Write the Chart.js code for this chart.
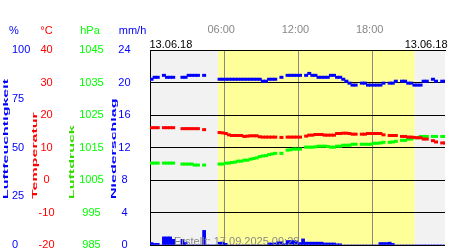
<!DOCTYPE html>
<html>
<head>
<meta charset="utf-8">
<script src="https://cdn.jsdelivr.net/npm/chart.js@4.4.1/dist/chart.umd.min.js"></script>
<style>
  body { margin: 0; background: #fff; }
  #wetter { display: block; }
</style>
</head>
<body>
<canvas id="wetter" width="450" height="250"></canvas>
<script>
/* Messwerte 13.06.18, alle 15 Minuten (null = kein Wert) */
const stepHours = 0.25;

const humidity = [
  85, 86, 86, null, 87, 86, 86, 86, null, null, 86, 86, 87, 87, 87, 87,
  null, 87, null, null, null, null, 85, 85, 85, 85, 85, 85, 85, 85, 85, 85,
  85, 85, 85, 85, 84, 84, 85, 85, 85, null, 86, null, 87, 87, 87, 87,
  87, null, 87, 88, 87, 87, 86, 86, 86, 86, 87, 87, 86, 86, 85, 84,
  83, 82, 82, null, 83, 83, 82, 82, 82, 82, 82, 83, null, 83, 83, 84,
  null, 84, 84, 83, 83, 82, 82, 82, 84, 84, null, 85, 84, null, 84, 84
];

const temperature = [
  16.1, 16.1, 16.1, null, 16.1, 16.1, 16.1, 16.1, null, null, 15.8, 15.8, 15.8, 15.8, 15.8, 15.8,
  null, 15.5, null, null, null, null, 14.6, 14.5, 14.3, 13.9, 13.7, 13.7, 13.7, 13.7, 13.4, 13.5,
  13.6, 13.6, 13.6, 13.3, 13.2, 13.2, 13.2, 13.2, 13.2, null, 13.1, null, 13.2, 13.2, 13.2, 13.2,
  13.2, null, 13.5, 13.8, 13.8, 14.0, 14.0, 14.0, 13.8, 13.8, 13.8, 13.8, 14.3, 14.3, 14.4, 14.4,
  14.3, 14.1, 14.1, null, 14.1, 14.1, 14.3, 14.3, 14.3, 14.3, 14.3, 13.9, null, 13.7, 13.7, 13.7,
  null, 13.4, 13.4, 13.2, 13.2, 13.1, 13.0, 13.0, 12.6, 12.6, null, 12.1, 11.7, null, 11.4, 11.4
];

const pressure = [
  1010.2, 1010.2, 1010.2, null, 1010.2, 1010.2, 1010.2, 1010.2, null, null, 1009.9, 1009.9, 1009.9, 1009.9, 1009.6, 1009.6,
  null, 1009.6, null, null, null, null, 1009.9, 1009.9, 1010.2, 1010.2, 1010.4, 1010.5, 1010.8, 1010.8, 1011.1, 1011.1,
  1011.4, 1011.6, 1011.8, 1012.2, 1012.4, 1012.5, 1012.8, 1013.0, 1013.2, null, 1013.2, null, 1014.2, 1014.3, 1014.5, 1014.5,
  1014.5, null, 1015.1, 1015.1, 1015.1, 1015.2, 1015.4, 1015.4, 1015.4, 1015.3, 1015.1, 1015.1, 1015.4, 1015.4, 1015.7, 1015.7,
  1015.7, 1016.0, 1016.0, null, 1016.0, 1016.0, 1016.0, 1016.0, 1016.3, 1016.3, 1016.4, 1016.6, null, 1016.6, 1016.7, 1016.9,
  null, 1017.2, 1017.2, 1017.6, 1017.6, 1018.0, 1018.0, 1018.4, 1018.4, 1018.4, null, 1018.4, 1018.4, null, 1018.4, 1018.4
];

const rain = [
  0.3, 0.2, 0.2, 0, 1.0, 1.0, 1.0, 0.7, 0, 0, 0.7, 0.3, 0, 0, 0, 0,
  0, 1.8, 0, 0, 0, 0, 0.35, 0.35, 0.2, 0, 0, 0, 0, 0, 0, 0,
  0, 0, 0, 0, 0, 0, 0.25, 0.25, 0.25, 0.4, 0.4, 0.15, 0.55, 0.55, 0.55, 0.5,
  0.3, 0.75, 0.35, 0.35, 0.35, 0.35, 0.35, 0.35, 0.25, 0.25, 0.25, 0.25, 0.15, 0.15, 0, 0,
  0, 0, 0, 0, 0, 0, 0, 0, 0, 0, 0.3, 0.3, 0.3, 0.35, 0.2, 0,
  0, 0, 0, 0, 0, 0, 0, 0, 0, 0, 0, 0, 0, 0, 0, 0
];

const hourTicks = [6, 12, 18];
const daylight = [5.5, 21.38];   // Sonnenaufgang / -untergang in Stunden
const dateLabel = "13.06.18";
const createdLabel = "Erstellt: 17.09.2025 09:29";

const BLUE = "#0000ff";
const RED = "#ff0000";
const GREEN = "#00ff00";
const FONT = '"Liberation Sans", Arial, sans-serif';

// Zeitachse: Mitte jedes 15-Minuten-Intervalls
const points = (values) => values.map((v, i) => ({ x: i * stepHours + stepHours / 2, y: v }));

// Hintergrund: Nacht grau, Tag gelb
const backdrop = {
  id: "backdrop",
  beforeDraw(chart) {
    const { ctx, chartArea, scales } = chart;
    const sunrise = scales.x.getPixelForValue(daylight[0]);
    const sunset = scales.x.getPixelForValue(daylight[1]);
    ctx.save();
    ctx.fillStyle = "#f2f2f2";
    ctx.fillRect(chartArea.left, chartArea.top, chartArea.width, chartArea.height);
    ctx.fillStyle = "#ffff99";
    ctx.fillRect(sunrise, chartArea.top, sunset - sunrise, chartArea.height);
    ctx.restore();
  },
};

function drawUpright(ctx, text, x, y, color) {
  ctx.save();
  ctx.translate(x, y);
  ctx.rotate(-Math.PI / 2);
  ctx.scale(2, 1);
  ctx.font = "bold 8px " + FONT;
  ctx.fillStyle = color;
  ctx.textAlign = "left";
  ctx.textBaseline = "alphabetic";
  ctx.fillText(text, 0, 0);
  ctx.restore();
}

// Einheiten, Achsentitel, Datum, Fusszeile
const captions = {
  id: "captions",
  afterDraw(chart) {
    const { ctx, chartArea } = chart;
    ctx.save();
    ctx.font = "11px " + FONT;
    ctx.textBaseline = "alphabetic";
    ctx.textAlign = "center";
    ctx.fillStyle = BLUE;
    ctx.fillText("%", 14, 34);
    ctx.fillStyle = RED;
    ctx.fillText("°C", 46.5, 34);
    ctx.fillStyle = GREEN;
    ctx.fillText("hPa", 90, 34);
    ctx.fillStyle = BLUE;
    ctx.fillText("mm/h", 132.5, 34);

    ctx.fillStyle = "#000";
    ctx.textAlign = "left";
    ctx.fillText(dateLabel, chartArea.left - 0.5, 47.5);
    ctx.textAlign = "right";
    ctx.fillText(dateLabel, 447.5, 47.5);

    ctx.fillStyle = "#888";
    ctx.textAlign = "left";
    ctx.fillText(createdLabel, 174, 245);
    ctx.restore();

    drawUpright(ctx, "Luftfeuchtigkeit", 8.4, 199, BLUE);
    drawUpright(ctx, "Temperatur", 37.4, 199, RED);
    drawUpright(ctx, "Luftdruck", 74, 199, "#33dd00");
    drawUpright(ctx, "Niederschlag", 115.7, 199, BLUE);
  },
};

// linke Skalen: feste Breite, keine Zusatzabstaende oben/unten
function valueAxis(min, max, step, color, weight, width, align, pad, opts) {
  return Object.assign({
    type: "linear",
    position: "left",
    min: min,
    max: max,
    weight: weight,
    grid: { display: false, drawTicks: false, tickLength: 0 },
    border: { display: false },
    ticks: {
      stepSize: step,
      color: color,
      font: { family: FONT, size: 11 },
      labelOffset: 0,
      crossAlign: align,
      padding: pad,
      callback: (v) => String(v),
    },
    afterFit: (scale) => {
      scale.width = width;
      scale.paddingTop = 0;
      scale.paddingBottom = 0;
    },
  }, opts);
}

const dashStyle = (color) => ({
  type: "line",
  showLine: false,
  pointStyle: "line",
  pointRadius: 2,
  pointHoverRadius: 2,
  pointBorderWidth: 3,
  pointBorderColor: color,
  pointBackgroundColor: color,
  borderColor: color,
});

new Chart(document.getElementById("wetter"), {
  data: {
    datasets: [
      Object.assign(dashStyle(BLUE), { label: "Luftfeuchtigkeit", yAxisID: "yHum", data: points(humidity) }),
      Object.assign(dashStyle(RED), { label: "Temperatur", yAxisID: "yTemp", data: points(temperature) }),
      Object.assign(dashStyle(GREEN), { label: "Luftdruck", yAxisID: "yPres", data: points(pressure) }),
      {
        type: "bar",
        label: "Niederschlag",
        yAxisID: "yRain",
        data: points(rain),
        backgroundColor: BLUE,
        borderWidth: 0,
        barPercentage: 1,
        categoryPercentage: 1,
      },
    ],
  },
  options: {
    responsive: false,
    animation: false,
    events: [],
    layout: { padding: { left: 12, top: 0, right: 0, bottom: 2 } },
    plugins: { legend: { display: false }, tooltip: { enabled: false } },
    scales: {
      x: {
        type: "linear",
        position: "top",
        min: 0,
        max: 23.85,
        offset: false,
        z: 1,
        afterBuildTicks: (axis) => { axis.ticks = hourTicks.map((h) => ({ value: h })); },
        afterFit: (scale) => {
          scale.height = 50;
          scale.paddingLeft = 0;
          scale.paddingRight = 0;
        },
        grid: { color: "#888", lineWidth: 1, drawTicks: false, tickLength: 0, offset: false },
        border: { display: true, color: "#000", width: 1 },
        ticks: {
          color: "#888",
          font: { family: FONT, size: 11 },
          padding: 13,
          labelOffset: -3,
          maxRotation: 0,
          autoSkip: false,
          callback: (v) => String(v).padStart(2, "0") + ":00",
        },
      },
      yHum: valueAxis(0, 100, 25, BLUE, 4, 20, "far", 0, {}),
      yTemp: valueAxis(-20, 40, 10, RED, 3, 26, "center", 3.5, {}),
      yPres: valueAxis(985, 1045, 10, GREEN, 2, 48, "center", 2.3, {}),
      yRain: valueAxis(0, 24, 4, BLUE, 1, 44, "center", 19.4, {
        z: 1,
        grid: { display: true, color: "#000", lineWidth: 1, drawTicks: false, tickLength: 0 },
        border: { display: true, color: "#000", width: 1 },
      }),
    },
  },
  plugins: [backdrop, captions],
});
</script>
</body>
</html>
